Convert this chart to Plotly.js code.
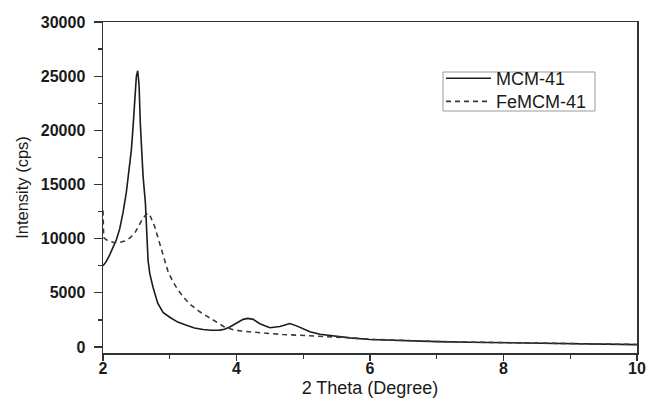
<!DOCTYPE html>
<html>
<head>
<meta charset="utf-8">
<script src="https://cdn.plot.ly/plotly-3.0.1.min.js"></script>
<style>html,body{margin:0;padding:0;background:#fff;}#chart{width:650px;height:398px;}</style>
</head>
<body>
<div id="chart"></div>
<script>
// MCM-41 (solid)
const mcmX = [2.00,2.05,2.10,2.15,2.20,2.25,2.30,2.35,2.40,2.425,2.45,2.475,2.50,2.52,2.54,2.56,2.575,2.60,2.635,2.675,2.70,2.75,2.82,2.90,3.00,3.12,3.25,3.37,3.50,3.62,3.75,3.82,3.90,4.02,4.10,4.17,4.25,4.35,4.50,4.65,4.80,4.90,5.00,5.10,5.25,5.45,5.70,6.00,6.40,7.00,7.50,8.00,8.50,9.00,9.50,10.00];
const mcmY = [7500,7900,8500,9200,9900,10900,12400,14300,16700,18200,20300,22800,25000,25500,24200,20500,18200,15800,13300,8000,6800,5500,4050,3200,2750,2300,2000,1760,1620,1550,1560,1640,1850,2300,2550,2640,2550,2150,1780,1900,2170,1950,1650,1400,1170,1000,840,690,600,500,440,400,340,290,250,220];
// FeMCM-41 (dashed)
const feX = [2.00,2.01,2.05,2.10,2.175,2.25,2.325,2.40,2.475,2.55,2.60,2.665,2.70,2.775,2.875,2.975,3.05,3.125,3.22,3.32,3.45,3.57,3.70,3.82,3.95,4.07,4.25,4.45,4.70,4.95,5.20,5.45,5.70,6.00,6.40,7.00,7.50,8.00,8.50,9.00,9.50,10.00];
const feY = [12600,10100,9900,9750,9630,9650,9790,10050,10500,11300,11900,12350,12200,11100,8950,6950,6000,5250,4500,3860,3250,2780,2250,1850,1600,1480,1370,1260,1150,1080,1010,960,850,710,610,510,450,410,350,300,260,230];

const xTicks = [2,4,6,8,10];
const yTicks = [0,5000,10000,15000,20000,25000,30000];

const FAM = 'Liberation Sans, Arial, sans-serif';
const traces = [
  {x: mcmX, y: mcmY, name: 'MCM-41', mode: 'lines', type: 'scatter', legend: 'legend',
   line: {color: '#1c1c1c', width: 1.6}},
  {x: feX, y: feY, name: 'FeMCM-41', mode: 'lines', type: 'scatter', legend: 'legend2',
   line: {color: '#3a3a3a', width: 1.6, dash: '5px,4px'}}
];

const tickFont = {family: FAM, size: 16, color: '#1a1a1a'};
const legFont = {family: FAM, size: 18, color: '#1a1a1a'};
// plot area: x 103..637, y 22..353 (331 px)
const layout = {
  width: 650, height: 398,
  margin: {l: 103, r: 13, t: 22, b: 45},
  paper_bgcolor: '#fff', plot_bgcolor: '#fff',
  showlegend: true,
  legend: {x: 0.633, y: (353 - 78.5) / 331, xanchor: 'left', yanchor: 'middle',
    bgcolor: 'rgba(0,0,0,0)', borderwidth: 0, font: legFont, itemwidth: 45},
  legend2: {x: 0.633, y: (353 - 101.7) / 331, xanchor: 'left', yanchor: 'middle',
    bgcolor: 'rgba(0,0,0,0)', borderwidth: 0, font: legFont, itemwidth: 45},
  shapes: [{type: 'rect', xref: 'paper', yref: 'paper',
    x0: (443 - 103) / 534, x1: (595 - 103) / 534,
    y0: (353 - 111) / 331, y1: (353 - 72) / 331,
    line: {color: '#9a9a9a', width: 1}, fillcolor: 'rgba(0,0,0,0)', layer: 'below'}],
  xaxis: {range: [2, 10], tickvals: xTicks, ticktext: xTicks.map(v => '<b>' + v + '</b>'),
    showgrid: false, zeroline: false, showline: true, mirror: true,
    linecolor: '#333', linewidth: 1.5, ticks: 'outside', ticklen: 6, tickwidth: 1.3, tickcolor: '#333',
    minor: {dtick: 1, tick0: 2, ticks: 'outside', ticklen: 4, tickcolor: '#333', tickwidth: 1.2},
    tickfont: tickFont, ticklabelstandoff: -6,
    title: {text: '2 Theta (Degree)', standoff: 13,
      font: {family: FAM, size: 18, color: '#1a1a1a'}}},
  yaxis: {range: [-554, 30000], tickvals: yTicks, ticktext: yTicks.map(v => '<b>' + v + '</b>'),
    showgrid: false, zeroline: false, showline: true, mirror: true,
    linecolor: '#333', linewidth: 1.5, ticks: 'outside', ticklen: 8, tickwidth: 1.3, tickcolor: '#333',
    minor: {dtick: 2500, tick0: 0, ticks: 'outside', ticklen: 4, tickcolor: '#333', tickwidth: 1.2},
    tickfont: tickFont, ticklabelstandoff: 5,
    title: {text: 'Intensity (cps)', standoff: 8,
      font: {family: FAM, size: 16.5, color: '#1a1a1a'}}}
};

Plotly.newPlot('chart', traces, layout, {displayModeBar: false, staticPlot: true});
</script>
</body>
</html>
